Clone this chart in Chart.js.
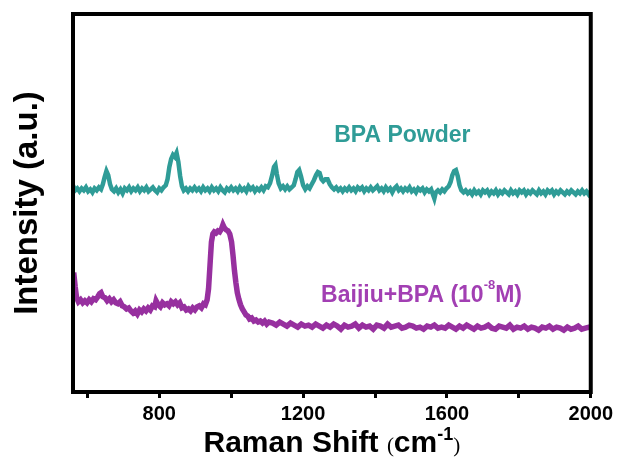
<!DOCTYPE html>
<html>
<head>
<meta charset="utf-8">
<script src="https://cdn.jsdelivr.net/npm/chart.js@4"></script>
<style>
  body { margin: 0; background: #fff; }
  #wrap { width: 617px; height: 463px; position: relative; }
</style>
</head>
<body>
<div id="wrap"><canvas id="myChartRaman"></canvas></div>
<script>
// x tick values (cm-1)
var tickValues = [600, 800, 1000, 1200, 1400, 1600, 1800, 2000];

// BPA Powder spectrum
var bpaShift = [
  560,566,572,578,584,590,596,602,608,614,
  620,626,632,638,643,648,653,658,663,668,
  674,680,686,692,698,704,710,716,722,728,
  734,740,746,752,758,764,770,776,782,788,
  794,800,806,812,818,823,828,833,838,843,
  848,853,858,863,868,874,880,886,892,898,
  904,910,916,922,928,934,940,946,952,958,
  964,970,976,982,988,994,1000,1006,1012,1018,
  1024,1030,1036,1042,1048,1054,1060,1066,1072,1078,
  1084,1090,1096,1102,1108,1114,1119,1123,1127,1132,
  1138,1144,1150,1156,1162,1168,1174,1179,1184,1189,
  1194,1200,1206,1212,1218,1224,1230,1236,1241,1246,
  1251,1256,1262,1268,1274,1280,1286,1292,1298,1304,
  1310,1316,1322,1328,1334,1340,1346,1352,1358,1364,
  1370,1376,1382,1388,1394,1400,1406,1412,1418,1424,
  1430,1436,1442,1448,1454,1460,1466,1472,1478,1484,
  1490,1496,1502,1508,1514,1520,1526,1532,1538,1544,
  1550,1556,1561,1565,1569,1575,1581,1587,1593,1599,
  1605,1610,1615,1620,1625,1630,1635,1640,1646,1652,
  1658,1664,1670,1676,1682,1688,1694,1700,1706,1712,
  1718,1724,1730,1736,1742,1748,1754,1760,1766,1772,
  1778,1784,1790,1796,1802,1808,1814,1820,1826,1832,
  1838,1844,1850,1856,1862,1868,1874,1880,1886,1892,
  1898,1904,1910,1916,1922,1928,1934,1940,1946,1952,
  1958,1964,1970,1976,1982,1988,1994,2000];
var bpaIntensity = [
  204,199,201,198,201,199,202,198,200,197,
  201,199,202,200,205,212,218,214,205,200,
  198,201,197,200,196,201,199,202,198,201,
  199,202,198,201,199,202,198,200,202,199,
  197,201,199,202,204,210,222,230,234,232,
  236,227,213,203,199,201,198,201,199,202,
  199,201,198,202,199,201,198,202,199,201,
  198,202,199,197,201,199,202,199,201,198,
  202,199,201,198,203,200,202,198,201,199,
  202,199,203,202,206,214,222,224,215,206,
  201,203,200,203,200,202,204,210,217,219,
  213,204,200,203,201,205,209,214,217,216,
  210,208,210,210,205,202,200,202,199,201,
  198,201,199,202,199,201,198,202,200,202,
  198,201,199,202,199,201,203,199,201,198,
  202,199,201,197,201,203,199,201,198,201,
  199,202,198,200,197,201,199,201,197,200,
  198,200,195,191,197,199,197,200,198,201,
  203,207,214,218,219,213,204,199,197,199,
  196,198,195,199,196,198,195,199,197,199,
  195,198,196,199,195,198,196,199,197,195,
  199,196,198,195,199,197,199,195,198,196,
  199,197,195,199,196,198,195,199,197,199,
  195,198,196,199,197,195,198,196,199,197,
  195,198,196,199,196,198,195,198];

// Baijiu + BPA (10^-8 M) spectrum
var baijiuShift = [
  562,566,570,575,581,587,593,599,605,611,
  617,623,629,634,638,643,649,655,661,667,
  673,679,685,691,697,703,709,715,721,727,
  733,739,745,751,757,763,769,775,781,787,
  791,797,803,809,815,821,827,833,839,845,
  851,857,863,869,875,881,887,893,899,905,
  911,917,923,928,933,937,941,945,949,953,
  958,963,968,973,977,981,986,991,996,1001,
  1005,1009,1013,1017,1021,1026,1031,1036,1041,1046,
  1051,1057,1063,1069,1075,1081,1087,1093,1099,1105,
  1115,1125,1135,1145,1155,1165,1175,1185,1195,1205,
  1215,1225,1235,1245,1255,1265,1275,1285,1295,1305,
  1315,1325,1335,1345,1355,1365,1375,1385,1395,1405,
  1415,1425,1435,1445,1455,1465,1475,1485,1495,1505,
  1515,1525,1535,1545,1555,1565,1575,1585,1595,1605,
  1615,1625,1635,1645,1655,1665,1675,1685,1695,1705,
  1715,1725,1735,1745,1755,1765,1775,1785,1795,1805,
  1815,1825,1835,1845,1855,1865,1875,1885,1895,1905,
  1915,1925,1935,1945,1955,1965,1975,1985,1995,2000];
var baijiuIntensity = [
  118,104,93,89,91,88,90,88,91,89,
  92,91,94,97,98,94,93,90,92,89,
  91,88,87,89,85,84,82,83,80,78,
  80,77,81,79,82,80,83,81,85,84,
  90,86,84,88,86,87,85,89,87,89,
  86,88,83,84,81,82,80,83,81,84,
  85,83,87,86,91,102,125,148,156,158,
  157,159,158,161,165,162,160,159,156,148,
  135,120,108,98,92,86,82,79,76,75,
  72,73,70,71,69,70,68,70,67,69,
  68,66,69,67,65,68,66,64,67,65,
  66,64,67,65,63,66,64,67,65,62,
  66,64,65,67,63,66,64,65,62,66,
  65,63,67,64,65,66,63,64,66,65,
  63,64,62,65,64,66,63,64,63,66,
  64,62,65,63,66,64,62,65,63,64,
  66,63,62,65,64,63,66,62,64,63,
  65,62,64,63,61,64,63,65,62,64,
  63,61,64,62,63,65,62,63,64,63];

var tealColor = '#2f9c97';
var purpleColor = '#97309f';
var fontFamily = 'Arial, "Liberation Sans", sans-serif';

function toPoints(xs, ys) {
  return xs.map(function(x, i){ return {x: x, y: ys[i]}; });
}

var frameAndText = {
  id: 'frameAndText',
  afterDraw: function(chart) {
    var ctx = chart.ctx;
    var a = chart.chartArea;
    var sx = chart.scales.x, sy = chart.scales.y;
    ctx.save();
    // frame
    ctx.strokeStyle = '#000';
    ctx.lineWidth = 4;
    ctx.strokeRect(a.left, a.top, a.right - a.left, a.bottom - a.top);

    // x title: Raman Shift (cm-1)
    var boldF = 'bold 30px ' + fontFamily;
    var supF = 'bold 18px ' + fontFamily;
    var parF = '21px "Liberation Serif", "DejaVu Serif", serif';
    var parts = [
      {t: 'Raman Shift ', f: boldF, dy: 0},
      {t: '(', f: parF, dy: 0},
      {t: 'cm', f: boldF, dy: 0},
      {t: '-1', f: supF, dy: -12},
      {t: ')', f: parF, dy: 0}
    ];
    var total = 0;
    parts.forEach(function(p){ ctx.font = p.f; p.w = ctx.measureText(p.t).width; total += p.w; });
    var x = (a.left + a.right) / 2 - total / 2;
    var base = 452;
    ctx.fillStyle = '#000';
    ctx.textBaseline = 'alphabetic';
    ctx.textAlign = 'left';
    parts.forEach(function(p){ ctx.font = p.f; ctx.fillText(p.t, x, base + p.dy); x += p.w; });

    // y title
    ctx.save();
    ctx.translate(28, (a.top + a.bottom) / 2);
    ctx.rotate(-Math.PI / 2);
    ctx.font = 'bold 33px ' + fontFamily;
    ctx.textAlign = 'center';
    ctx.textBaseline = 'middle';
    ctx.fillText('Intensity (a.u.)', 0, 0);
    ctx.restore();

    // series labels
    ctx.font = 'bold 23px ' + fontFamily;
    ctx.fillStyle = tealColor;
    ctx.textAlign = 'center';
    ctx.textBaseline = 'middle';
    ctx.fillText('BPA Powder', sx.getPixelForValue(1476), sy.getPixelForValue(253));

    ctx.fillStyle = '#a23fb3';
    ctx.textAlign = 'left';
    var lx = sx.getPixelForValue(1250), ly = sy.getPixelForValue(95);
    var lab = [
      {t: 'Baijiu+BPA (10', f: 'bold 23px ' + fontFamily, dy: 0},
      {t: '-8', f: 'bold 13px ' + fontFamily, dy: -10},
      {t: 'M)', f: 'bold 23px ' + fontFamily, dy: 0}
    ];
    lab.forEach(function(p){ ctx.font = p.f; ctx.fillText(p.t, lx, ly + p.dy); lx += ctx.measureText(p.t).width; });
    ctx.restore();
  }
};

document.addEventListener('DOMContentLoaded', function(){
  new Chart('myChartRaman', {
    type: 'line',
    data: {
      datasets: [{
        data: toPoints(bpaShift, bpaIntensity),
        borderColor: tealColor,
        borderWidth: 4.5,
        pointRadius: 0,
        fill: false
      }, {
        data: toPoints(baijiuShift, baijiuIntensity),
        borderColor: purpleColor,
        borderWidth: 5.5,
        pointRadius: 0,
        fill: false
      }]
    },
    options: {
      responsive: true,
      maintainAspectRatio: false,
      animation: false,
      layout: { padding: { left: 73, right: 25, top: 14, bottom: 33 } },
      plugins: { legend: { display: false }, tooltip: { enabled: false } },
      scales: {
        x: {
          type: 'linear',
          min: 560,
          max: 2000,
          afterBuildTicks: function(scale){
            scale.ticks = tickValues.map(function(v){ return {value: v}; });
          },
          ticks: {
            color: '#000',
            padding: 4,
            maxRotation: 0,
            autoSkip: false,
            font: { family: fontFamily, size: 20, weight: 'bold' },
            callback: function(v){ return v % 400 === 0 ? v : ''; }
          },
          grid: {
            display: true,
            drawOnChartArea: false,
            drawTicks: true,
            tickLength: 6,
            tickWidth: 3,
            tickColor: '#000'
          },
          border: { display: false }
        },
        y: {
          display: false,
          min: 0,
          max: 373
        }
      }
    },
    plugins: [frameAndText]
  });
});
</script>
</body>
</html>
